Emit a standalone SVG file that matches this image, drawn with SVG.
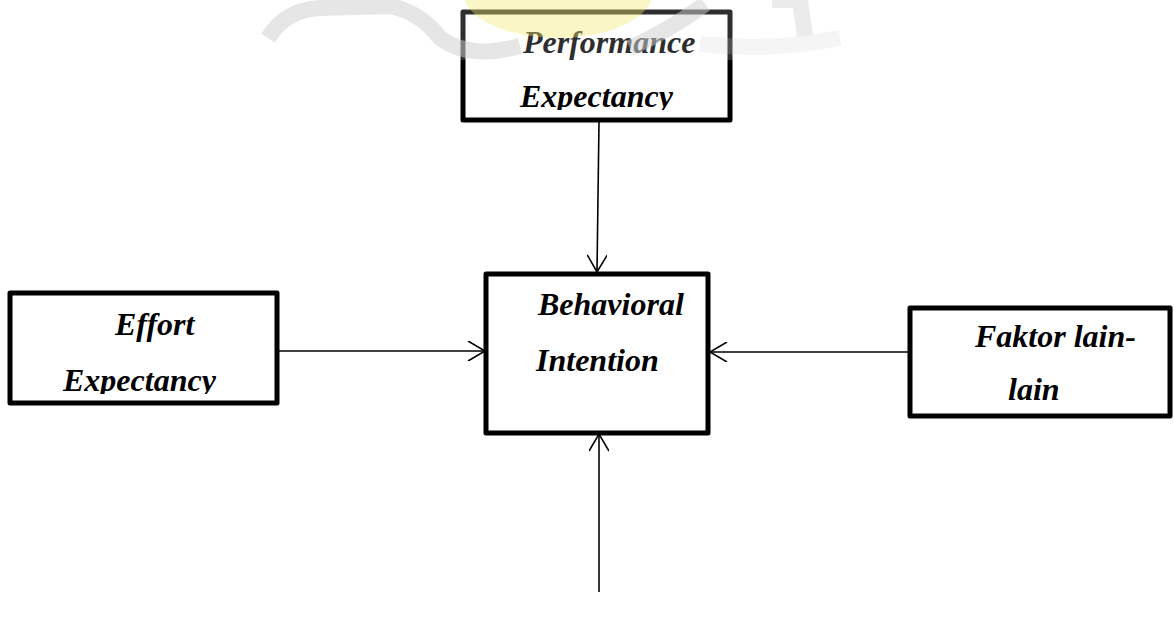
<svg xmlns="http://www.w3.org/2000/svg" width="1174" height="619" viewBox="0 0 1174 619">
<style>
.box{fill:#fff;stroke:#000;stroke-width:5;stroke-linejoin:round}
.lbl{font-family:"Liberation Serif","Times New Roman",serif;font-weight:bold;font-style:italic;font-size:32px;fill:#000}
.conn{stroke:#000;stroke-width:1.6;fill:none}
.wm{fill:none;stroke:#d6d6d6;stroke-width:16;stroke-linecap:butt}
</style>
<defs>
<marker id="arr" viewBox="0 0 20 20" refX="18" refY="10" markerWidth="20" markerHeight="20" markerUnits="userSpaceOnUse" orient="auto">
<path d="M1,0 L18,10 L1,20" fill="none" stroke="#000" stroke-width="1.6"/>
</marker>
<clipPath id="cTop"><rect x="462" y="12" width="270" height="98"/></clipPath>
<clipPath id="cLeft"><rect x="10" y="293" width="267" height="101"/></clipPath>
</defs>
<rect width="1174" height="619" fill="#fff"/>
<g id="connectors">
<line class="conn" x1="599" y1="122" x2="597" y2="272" marker-end="url(#arr)"/>
<line class="conn" x1="277" y1="351" x2="485" y2="351" marker-end="url(#arr)"/>
<line class="conn" x1="910" y1="352" x2="710" y2="352" marker-end="url(#arr)"/>
<line class="conn" x1="599" y1="592" x2="599" y2="434" marker-end="url(#arr)"/>
</g>
<g id="node-performance">
<rect class="box" x="463" y="12" width="267" height="108"/>
<g clip-path="url(#cTop)">
<text class="lbl" x="523" y="53">Performance</text>
<text class="lbl" x="520" y="107">Expectancy</text>
</g>
</g>
<g id="node-effort">
<rect class="box" x="10" y="293" width="267" height="110"/>
<g clip-path="url(#cLeft)">
<text class="lbl" x="115" y="335">Effort</text>
<text class="lbl" x="63" y="391">Expectancy</text>
</g>
</g>
<g id="node-behavioral">
<rect class="box" x="486" y="274" width="222" height="159"/>
<text class="lbl" x="538" y="315">Behavioral</text>
<text class="lbl" x="536" y="371">Intention</text>
</g>
<g id="node-faktor">
<rect class="box" x="910" y="308" width="260" height="108"/>
<text class="lbl" x="975" y="347">Faktor lain-</text>
<text class="lbl" x="1008" y="400">lain</text>
</g>
<g id="watermark" opacity="0.6">
<rect x="255" y="0" width="610" height="60" fill="#fff" opacity="0.3"/>
<ellipse cx="558" cy="-8" rx="95" ry="46" fill="#f6ec80" opacity="0.75"/>
<path class="wm" d="M268,38 Q285,10 320,8 L390,6 Q420,12 440,38 Q470,60 520,46"/>
<path class="wm" d="M630,48 Q670,30 705,4"/>
<path class="wm" d="M772,0 L800,0 L805,36" opacity="0.8"/>
<path class="wm" d="M700,44 Q770,52 840,38" opacity="0.4"/>
</g>
</svg>
